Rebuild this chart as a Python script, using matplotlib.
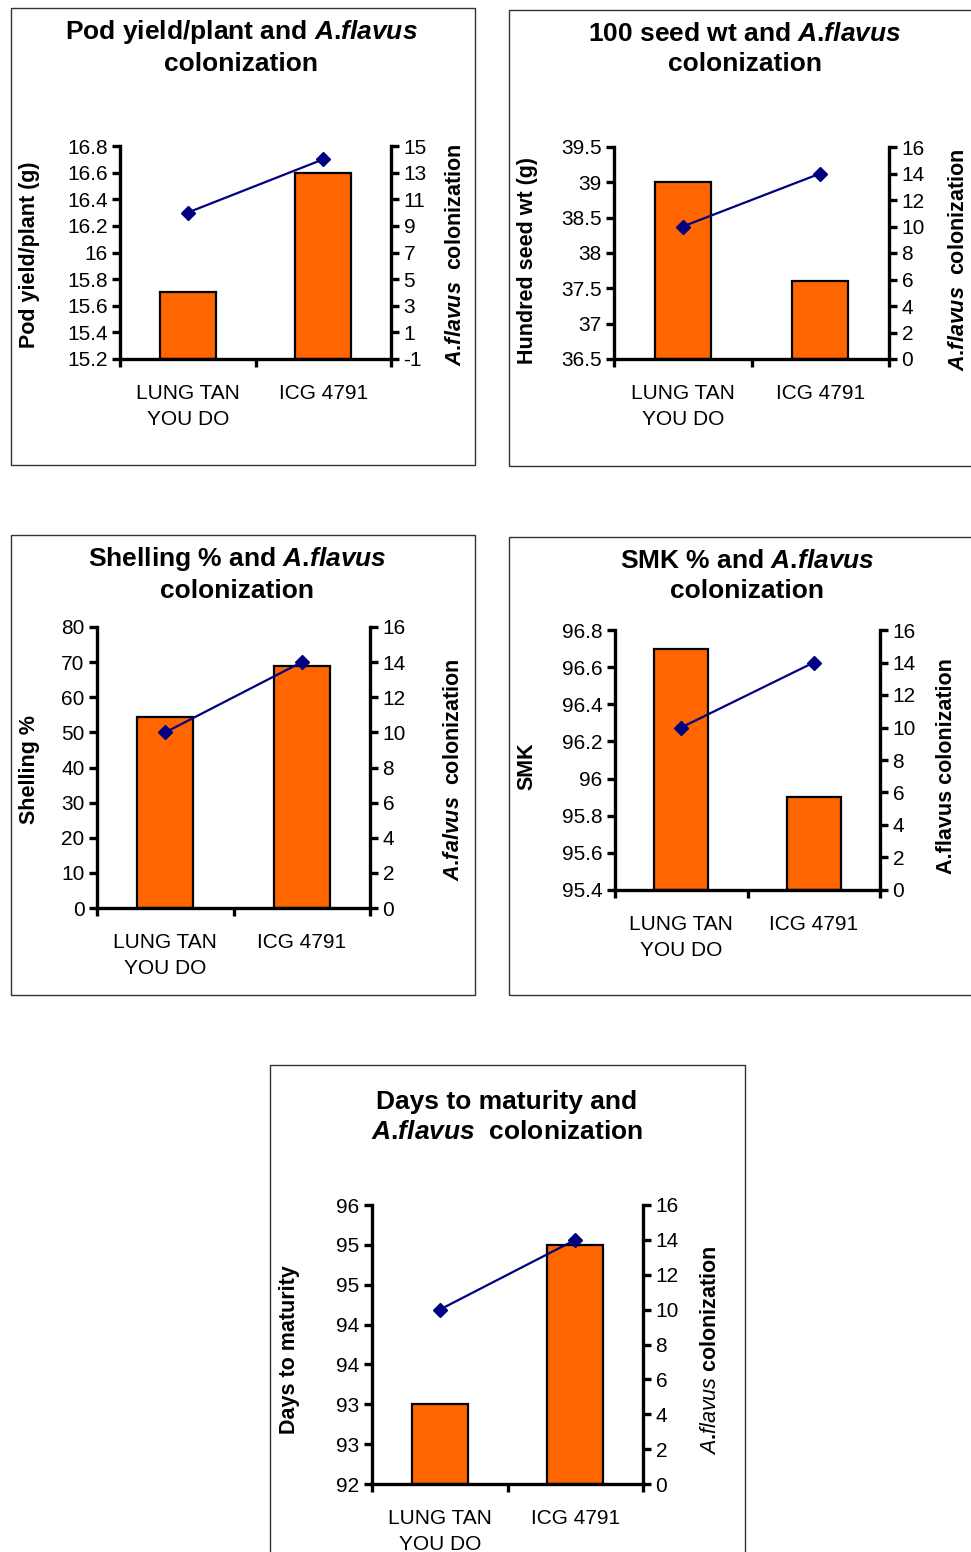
import numpy as np
import matplotlib
matplotlib.use("Agg")
import matplotlib.pyplot as plt
from matplotlib.patches import Rectangle
from matplotlib.ticker import FuncFormatter

plt.rcParams["font.family"] = ["Liberation Sans", "DejaVu Sans"]
plt.rcParams["axes.unicode_minus"] = False
plt.rcParams["mathtext.fontset"] = "custom"
plt.rcParams["mathtext.it"] = "Liberation Sans:italic:bold"
plt.rcParams["mathtext.rm"] = "Liberation Sans:bold"
plt.rcParams["mathtext.sf"] = "Liberation Sans:italic"

# data
genotypes = ["LUNG TAN\nYOU DO", "ICG 4791"]
aflavus = [10, 14]
pod_yield = [15.7, 16.6]
seed_wt = [39.0, 37.6]
shelling = [54.5, 68.8]
smk = [96.7, 95.9]
days_mat = [93.0, 95.0]

W, H = 971, 1552
ORANGE = "#FF6600"
NAVY = "#000080"
FS_TICK = 15
FS_LAB = 15.5
FS_TITLE = 19

fig = plt.figure(figsize=(W / 100, H / 100), dpi=100)


def fx(x):
    return x / W


def fy(y):
    return 1 - y / H


def box(x0, y0, x1, y1):
    fig.patches.append(Rectangle((fx(x0), fy(y1)), fx(x1) - fx(x0), fy(y0) - fy(y1),
                                 transform=fig.transFigure, fill=False,
                                 edgecolor="#333333", lw=1.0))


def panel(l, r, t, b, values, ylim, ystep, y2lim, y2step, fmt=None):
    ax = fig.add_axes([fx(l), fy(b), fx(r) - fx(l), fy(t) - fy(b)])
    x = np.arange(len(values))
    ax.bar(x, np.array(values) - ylim[0], bottom=ylim[0], width=0.41,
           color=ORANGE, edgecolor="black", lw=1.6, zorder=2)
    ax.set_xlim(-0.5, 1.5)
    ax.set_ylim(*ylim)
    ax.set_yticks(np.arange(ylim[0], ylim[1] + ystep / 2, ystep))
    ax.yaxis.set_major_formatter(fmt or FuncFormatter(lambda v, p: "%g" % round(v, 2)))
    ax.set_xticks(x, genotypes, fontsize=FS_TICK, linespacing=1.45)
    ax.set_xticks([-0.5, 0.5, 1.5], minor=True)
    ax.tick_params(axis="x", which="major", length=0, pad=18)
    ax.tick_params(axis="x", which="minor", length=6, width=2.4, direction="out")
    ax.tick_params(axis="y", length=6, width=2.4, direction="out", labelsize=FS_TICK, pad=3)
    for s in ["top", "right"]:
        ax.spines[s].set_visible(False)
    for s in ["left", "bottom"]:
        ax.spines[s].set_linewidth(2.4)
    ax2 = ax.twinx()
    ax2.plot(x, aflavus, color=NAVY, lw=1.6, marker="D", ms=7, zorder=3)
    ax2.set_ylim(*y2lim)
    ax2.set_yticks(np.arange(y2lim[0], y2lim[1] + 0.1, y2step))
    ax2.tick_params(axis="y", length=6, width=2.4, direction="out", labelsize=FS_TICK, pad=3)
    for s in ["top", "left", "bottom"]:
        ax2.spines[s].set_visible(False)
    ax2.spines["right"].set_linewidth(2.4)
    return ax, ax2


def ytext(x, y, s, **kw):
    fig.text(fx(x), fy(y), s, rotation=90, ha="center", va="center", fontsize=FS_LAB, **kw)


def title(x, y, s):
    fig.text(fx(x), fy(y), s, ha="center", va="center", fontsize=FS_TITLE,
             fontweight="bold", linespacing=1.35)


# italic genus name; the dot sits outside math so mathtext adds no gap after it
AF = "$\\mathit{A}$.$\\mathit{flavus}$"

# panel 1: pod yield
box(11, 8, 475, 465)
panel(120, 391, 146, 359, pod_yield, (15.2, 16.8), 0.2, (-1, 15), 2)
title(241, 47, "Pod yield/plant and " + AF + "\ncolonization")
ytext(30, 255, "Pod yield/plant (g)", fontweight="bold")
ytext(455, 255, AF + "  colonization", fontweight="bold")

# panel 2: 100 seed wt
box(509, 10, 990, 466)
panel(614, 889, 147, 359, seed_wt, (36.5, 39.5), 0.5, (0, 16), 2)
title(745, 49, "100 seed wt and " + AF + "\ncolonization")
ytext(528, 260, "Hundred seed wt (g)", fontweight="bold")
ytext(958, 260, AF + "  colonization", fontweight="bold")

# panel 3: shelling
box(11, 535, 475, 995)
panel(97, 370, 627, 908, shelling, (0, 80), 10, (0, 16), 2)
title(237, 574, "Shelling % and " + AF + "\ncolonization")
ytext(30, 770, "Shelling %", fontweight="bold")
ytext(453, 770, "$\\mathit{A}$.$\\mathit{falvus}$  colonization", fontweight="bold")

# panel 4: SMK
box(509, 537, 990, 995)
panel(615, 880, 630, 890, smk, (95.4, 96.8), 0.2, (0, 16), 2)
title(747, 576, "SMK % and " + AF + "\ncolonization")
ytext(527, 766, "SMK", fontweight="bold")
ytext(946, 766, "A.flavus colonization", fontweight="bold")

# panel 5: days to maturity
box(270, 1065, 745, 1600)
half_up = FuncFormatter(lambda v, p: "%d" % int(np.floor(v + 0.5)))
panel(372, 643, 1205, 1484, days_mat, (92, 95.5), 0.5, (0, 16), 2, fmt=half_up)
title(507, 1117, "Days to maturity and\n" + AF + "  colonization")
ytext(289, 1350, "Days to maturity", fontweight="bold")
ytext(710, 1350, "$\\mathsf{A}$.$\\mathsf{flavus}$ colonization", fontweight="bold")

fig.savefig("out.png", dpi=100)
